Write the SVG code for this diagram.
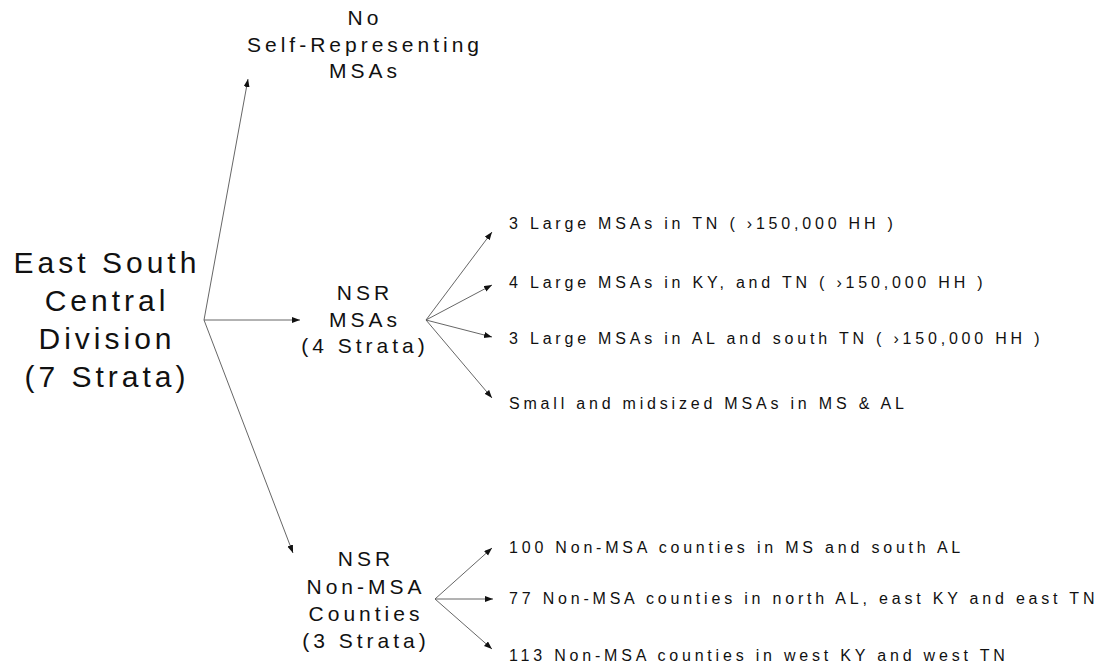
<svg xmlns="http://www.w3.org/2000/svg" width="1107" height="666" viewBox="0 0 1107 666">
<defs>
<marker id="ah" markerWidth="9" markerHeight="7" refX="8" refY="3" orient="auto" markerUnits="userSpaceOnUse">
<path d="M0,0 L8,3 L0,6 Z" fill="#111"/>
</marker>
<style>
text { font-family: "Liberation Sans", Arial, sans-serif; fill: #111; }
.main { font-size: 30px; letter-spacing: 4px; text-anchor: middle; }
.mid { font-size: 21px; letter-spacing: 4px; text-anchor: middle; }
.leaf { font-size: 16px; letter-spacing: 3.8px; }
.conn line { stroke: #555; stroke-width: 0.9; fill: none; marker-end: url(#ah); }
</style>
</defs>
<rect width="1107" height="666" fill="#fff"/>
<g id="connectors" class="conn">
<line x1="204" y1="320" x2="248" y2="79"/>
<line x1="204" y1="320" x2="300" y2="320"/>
<line x1="204" y1="320" x2="293" y2="553"/>
<line x1="426" y1="320" x2="492" y2="232"/>
<line x1="426" y1="320" x2="492" y2="285"/>
<line x1="426" y1="320" x2="492" y2="337"/>
<line x1="426" y1="320" x2="492" y2="398"/>
<line x1="435" y1="599" x2="492" y2="548"/>
<line x1="435" y1="599" x2="493" y2="599"/>
<line x1="435" y1="599" x2="492" y2="649"/>
</g>
<g id="root">
<text class="main" x="107" y="273">East South</text>
<text class="main" x="107" y="311">Central</text>
<text class="main" x="107" y="349">Division</text>
<text class="main" x="107" y="387">(7 Strata)</text>
</g>
<g id="sr">
<text class="mid" x="365" y="25">No</text>
<text class="mid" x="365" y="52">Self-Representing</text>
<text class="mid" x="365" y="78">MSAs</text>
</g>
<g id="nsr-msa">
<text class="mid" x="365" y="300">NSR</text>
<text class="mid" x="365" y="327">MSAs</text>
<text class="mid" x="365" y="353">(4 Strata)</text>
</g>
<g id="nsr-nonmsa">
<text class="mid" x="366" y="566">NSR</text>
<text class="mid" x="366" y="594">Non-MSA</text>
<text class="mid" x="366" y="621">Counties</text>
<text class="mid" x="366" y="648">(3 Strata)</text>
</g>
<g id="leaf1"><text class="leaf" x="509" y="229">3 Large MSAs in TN ( ›150,000 HH )</text></g>
<g id="leaf2"><text class="leaf" x="509" y="288">4 Large MSAs in KY, and TN ( ›150,000 HH )</text></g>
<g id="leaf3"><text class="leaf" x="509" y="344">3 Large MSAs in AL and south TN ( ›150,000 HH )</text></g>
<g id="leaf4"><text class="leaf" x="509" y="409">Small and midsized MSAs in MS &amp; AL</text></g>
<g id="leaf5"><text class="leaf" x="509" y="553">100 Non-MSA counties in MS and south AL</text></g>
<g id="leaf6"><text class="leaf" x="509" y="604">77 Non-MSA counties in north AL, east KY and east TN</text></g>
<g id="leaf7"><text class="leaf" x="509" y="661">113 Non-MSA counties in west KY and west TN</text></g>
</svg>
